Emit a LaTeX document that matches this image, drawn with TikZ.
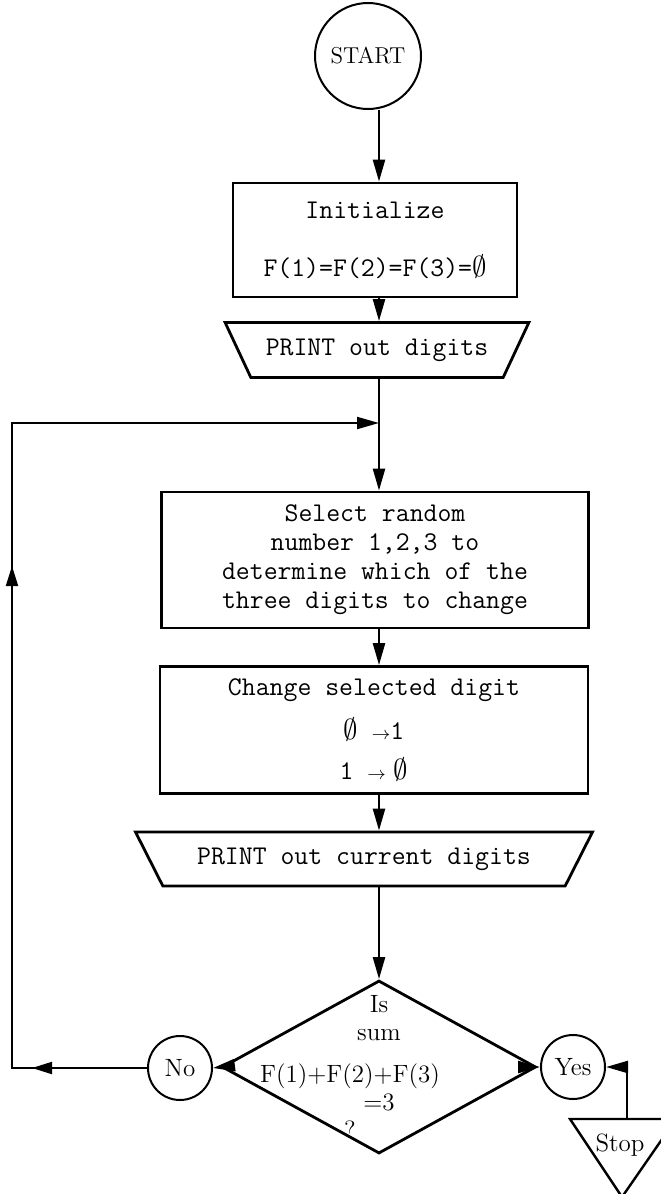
\documentclass[tikz,border=0pt]{standalone}
\usepackage{tikz}
\usetikzlibrary{arrows.meta,positioning,shapes.geometric,decorations.markings}

\begin{document}
\begin{tikzpicture}[x=0.5pt,y=-0.5pt,
  every node/.style={align=center},
  tt/.style={font=\fontsize{13.5}{14.5}\selectfont\ttfamily},
  rm/.style={font=\fontsize{12.5}{14}\selectfont},
  procbox/.style={tt,draw,line width=1.4pt,inner sep=0pt},
  printbox/.style={tt,draw,line width=1.4pt,trapezium,trapezium angle=135,trapezium stretches=true,inner sep=0pt},
  ring/.style={rm,draw,circle,line width=1pt,inner sep=0pt},
  decision/.style={draw,diamond,line width=1.4pt,inner sep=0pt},
  flow/.style={line width=1.2pt,-{Triangle[length=11pt,width=6pt]}},
  backmarks/.style 2 args={postaction={decorate},decoration={markings,
    mark=at position #1 with {\arrow{Triangle[length=10pt,width=6pt]}},
    mark=at position #2 with {\arrow{Triangle[length=10pt,width=6pt]}}}}
]
  \useasboundingbox (0,0) rectangle (660,1194);

  % main column
  \node[ring,minimum size=53pt,font=\fontsize{11.5}{13}\selectfont] (start) at (368,56) {START};
  \node[procbox,minimum width=142pt,minimum height=57pt] (init) at (375,240)
    {Initialize\\[14.5pt]F(1)=F(2)=F(3)=$\emptyset$};
  \node[printbox,minimum width=152pt,minimum height=27.5pt] (print1) at (377,350) {PRINT out digits};
  \node[procbox,minimum width=213.5pt,minimum height=68pt] (select) at (375,560)
    {Select random\\number 1,2,3 to\\determine which of the\\three digits to change};
  \node[procbox,minimum width=214pt,minimum height=63.5pt] (change) at (374,730)
    {Change selected digit\\[7.5pt]$\emptyset$ $\scriptstyle\rightarrow$1\\[5.5pt]1 $\scriptstyle\rightarrow\displaystyle\emptyset$};
  \node[printbox,minimum width=229pt,minimum height=27pt] (print2) at (364,859) {PRINT out current digits};
  \node[decision,minimum width=157pt,minimum height=86.5pt,
    label={[rm]center:{Is\\sum\\[7pt]\hspace*{-29pt}F(1)+F(2)+F(3)\\=3\\\hspace*{-29pt}?}}] (dec) at (379,1067) {};

  % answers
  \node[ring,minimum size=32pt] (no) at (180,1068) {No};
  \node[ring,minimum size=32pt] (yes) at (573,1067) {Yes};
  \node[rm] (stop) at (620,1145) {Stop};
  \draw[line width=1.2pt] (570,1119) -- (676,1119) -- (622,1197) -- cycle;

  \coordinate (col) at (379,0);
  \coordinate (join) at (379,423);
  \coordinate (lowcorner) at (12,1068);
  \coordinate (highcorner) at (12,423);
  \coordinate (stoptop) at (627,1119);

  % connectors
  \draw[flow] (start.south -| col) -- (init.north -| col);
  \draw[flow] (init.south -| col) -- (print1.north -| col);
  \draw[flow] (print1.south -| col) -- (select.north -| col);
  \draw[flow] (select.south -| col) -- (change.north -| col);
  \draw[flow] (change.south -| col) -- (print2.north -| col);
  \draw[flow] (print2.south -| col) -- (dec.north);
  \draw[flow] (dec.west) -- (no.east);
  \draw[flow] (dec.east) -- (yes.west);
  \draw[flow,line width=1pt,backmarks={57.5pt}{318.5pt}] (no.west) -- (lowcorner) -- (highcorner) -- (join);
  \draw[flow] (stoptop) |- (yes.east);
\end{tikzpicture}
\end{document}
